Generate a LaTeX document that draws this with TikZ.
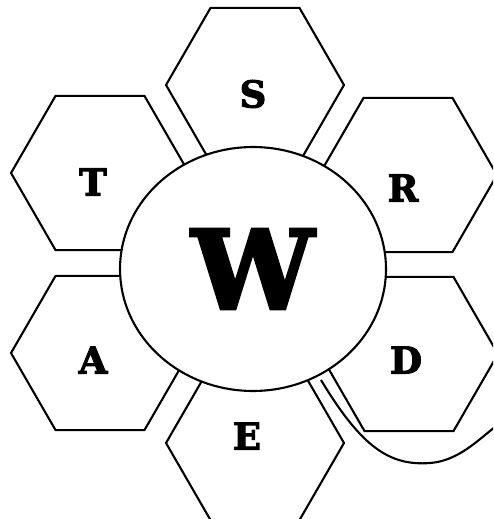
\documentclass[tikz,border=0pt]{standalone}
\usepackage{fontspec}
\usepackage{tikz}
\usetikzlibrary{shapes.geometric,positioning}
\newfontfamily\slabfont{DejaVu Serif}[BoldFeatures={FakeBold=3}]

\begin{document}
\begin{tikzpicture}[
  x=0.02cm, y=-0.02cm,
  hexa/.style={draw, regular polygon, regular polygon sides=6, minimum size=3.56cm, inner sep=0pt, line width=1.2pt},
  letter/.style={font=\slabfont\bfseries\fontsize{21}{21}\selectfont},
  hub/.style={draw, ellipse, fill=white, minimum width=5.32cm, minimum height=4.88cm, inner sep=0pt, line width=1.2pt, font=\slabfont\bfseries\fontsize{62}{62}\selectfont},
  swoosh/.style={line width=1.2pt}
]
\useasboundingbox (0,0) rectangle (493,519);
\clip (0,0) rectangle (493,519);
% petals
\node[hexa] (hS) at (255,85) {};
\node[hexa] (hT) at (100,173) {};
\node[hexa] (hR) at (408,175) {};
\node[hexa] (hA) at (100,353) {};
\node[hexa] (hD) at (409,354) {};
\node[hexa] (hE) at (255,443) {};
% letters
\node[letter] (S) at (253,94) {S};
\node[letter] (T) at (93,182) {T};
\node[letter] (R) at (403,188) {R};
\node[letter] (A) at (93,360) {A};
\node[letter] (D) at (406,360) {D};
\node[letter] (E) at (247,436) {E};
% curve under the hub
\coordinate (c1) at (321,380);
\coordinate (c2) at (430,463);
\coordinate (c3) at (495,427);
\draw[swoosh] (c1) .. controls (362,448) and (390,466) .. (c2)
  .. controls (458,461) and (478,440) .. (c3);
% centre
\node[hub] (W) at (253,269) {W};
\end{tikzpicture}
\end{document}
